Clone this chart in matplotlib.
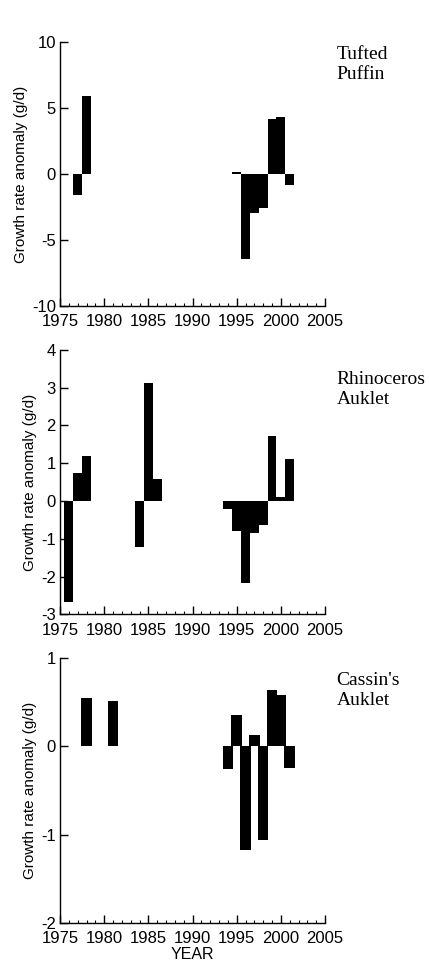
import matplotlib
matplotlib.use("Agg")
import matplotlib.pyplot as plt
from matplotlib.ticker import MultipleLocator

# Tufted Puffin
tp_years = [1977, 1978, 1995, 1996, 1997, 1998, 1999, 2000, 2001]
tp_vals = [-1.6, 5.9, 0.15, -6.4, -2.95, -2.6, 4.2, 4.35, -0.85]

# Rhinoceros Auklet
ra_years = [1976, 1977, 1978, 1984, 1985, 1986, 1994, 1995, 1996, 1997, 1998, 1999, 2000, 2001]
ra_vals = [-2.68, 0.73, 1.19, -1.21, 3.12, 0.58, -0.21, -0.79, -2.18, -0.86, -0.64, 1.73, 0.11, 1.11]

# Cassin's Auklet
ca_years = [1978, 1981, 1994, 1995, 1996, 1997, 1998, 1999, 2000, 2001]
ca_vals = [0.555, 0.515, -0.255, 0.355, -1.18, 0.125, -1.06, 0.635, 0.585, -0.245]

species = ["Tufted\nPuffin", "Rhinoceros\nAuklet", "Cassin's\nAuklet"]
ylims = [(-10, 10), (-3, 4), (-2, 1)]
ysteps = [5, 1, 1]
widths = [1.0, 1.0, 1.2]
label_y = [0.985, 0.92, 0.95]

plt.rcParams["font.family"] = ["Liberation Sans", "DejaVu Sans"]
plt.rcParams["axes.unicode_minus"] = False

fig = plt.figure(figsize=(4.29, 9.63), dpi=100)
rects = [
    [0.1399, 0.6822, 0.6177, 0.2739],
    [0.1399, 0.3621, 0.6177, 0.2745],
    [0.1399, 0.0418, 0.6177, 0.2746],
]
data = [(tp_years, tp_vals), (ra_years, ra_vals), (ca_years, ca_vals)]

for i, (yrs, vals) in enumerate(data):
    ax = fig.add_axes(rects[i])
    ax.bar(yrs, vals, width=widths[i], color="black", linewidth=0)
    ax.set_xlim(1975, 2005)
    ax.set_ylim(*ylims[i])
    ax.xaxis.set_major_locator(MultipleLocator(5))
    ax.xaxis.set_minor_locator(MultipleLocator(1))
    ax.yaxis.set_major_locator(MultipleLocator(ysteps[i]))
    for s in ["top", "right"]:
        ax.spines[s].set_visible(False)
    for s in ["left", "bottom"]:
        ax.spines[s].set_linewidth(1.0)
    ax.tick_params(axis="both", which="major", direction="in", length=5.5,
                   width=1.0, labelsize=12)
    ax.tick_params(axis="x", which="major", pad=6)
    ax.tick_params(axis="x", which="minor", direction="in", length=2.5, width=0.8)
    ax.tick_params(axis="y", which="major", pad=3)
    ax.set_ylabel("Growth rate anomaly (g/d)", fontsize=11, labelpad=3)
    ax.text(1.044, label_y[i], species[i], transform=ax.transAxes,
            ha="left", va="top", fontsize=14, family="Liberation Serif",
            linespacing=1.25)
    if i == 2:
        ax.set_xlabel("YEAR", fontsize=11.5, labelpad=1)

fig.savefig("out.png", dpi=100)
